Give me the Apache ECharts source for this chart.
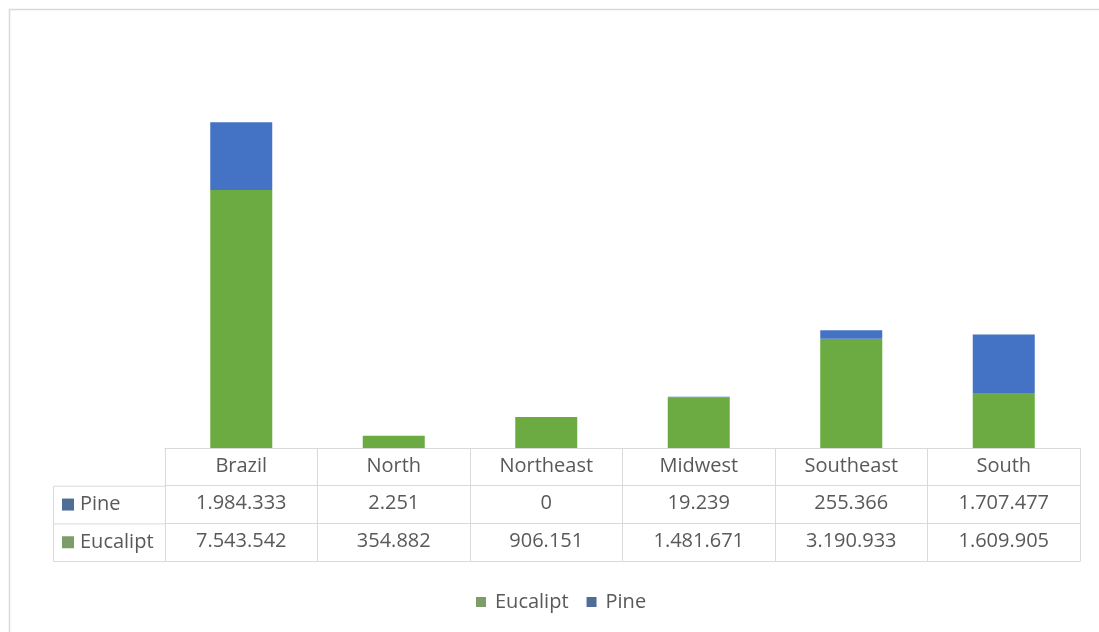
<!DOCTYPE html>
<html>
<head>
<meta charset="utf-8">
<script src="https://cdn.jsdelivr.net/npm/echarts@6/dist/echarts.min.js"></script>
<style>
html,body{margin:0;padding:0;background:#fff;}
#chart{width:1099px;height:632px;}
</style>
</head>
<body>
<div id="chart"></div>
<script>
var categories = ['Brazil', 'North', 'Northeast', 'Midwest', 'Southeast', 'South'];
var seriesNames = ['Eucalipt', 'Pine'];
var eucalipt = [7543542, 354882, 906151, 1481671, 3190933, 1609905];
var pine = [1984333, 2251, 0, 19239, 255366, 1707477];

var TEXT = '#595959';
var LINE = '#d9d9d9';
var FONT = 'Open Sans';
var FS = 20;
var GREEN = '#6cab42';
var BLUE = '#4472c4';
var GREEN_KEY = '#7c9c68';
var BLUE_KEY = '#4f6d96';
var ROW = 37.7;

function fmt(v) {
  return String(v).replace(/\B(?=(\d{3})+(?!\d))/g, '.');
}

var chart = echarts.init(document.getElementById('chart'));

function rowAxis(offset, values) {
  return {
    type: 'category',
    data: categories,
    position: 'bottom',
    offset: offset,
    axisLine: { show: true, lineStyle: { color: LINE, width: 1 } },
    axisTick: { show: false },
    axisLabel: values ? {
      show: true, margin: 8, color: TEXT, fontFamily: FONT, fontSize: FS,
      interval: 0,
      formatter: function (v, i) { return fmt(values[i]); }
    } : { show: false }
  };
}

var option = {
  backgroundColor: '#fff',
  animation: false,
  grid: { left: 165, right: 19, top: 106, bottom: 184, containLabel: false },
  legend: {
    data: [
      { name: seriesNames[0], itemStyle: { color: GREEN_KEY } },
      { name: seriesNames[1], itemStyle: { color: BLUE_KEY } }
    ],
    left: 471, top: 587,
    icon: 'rect', itemWidth: 10, itemHeight: 10, itemGap: 18,
    textStyle: { color: TEXT, fontFamily: FONT, fontSize: FS, padding: [0, 0, 0, 4] }
  },
  xAxis: [
    {
      type: 'category',
      data: categories,
      position: 'bottom',
      axisLine: { show: true, lineStyle: { color: LINE, width: 1 } },
      axisTick: { show: true, length: ROW * 3, lineStyle: { color: LINE, width: 1 } },
      axisLabel: { show: true, margin: 8, color: TEXT, fontFamily: FONT, fontSize: FS, interval: 0 }
    },
    rowAxis(ROW, pine),
    rowAxis(ROW * 2, eucalipt),
    rowAxis(ROW * 3, null)
  ],
  yAxis: {
    type: 'value', min: 0, max: 10000000, show: false,
    splitLine: { show: false }
  },
  series: [
    {
      name: seriesNames[0], type: 'bar', stack: 'total', data: eucalipt,
      barWidth: 62, itemStyle: { color: GREEN }
    },
    {
      name: seriesNames[1], type: 'bar', stack: 'total', data: pine,
      barWidth: 62, itemStyle: { color: BLUE }
    }
  ]
};
chart.setOption(option);

// Row header cells of the data table (left column), aligned to the axes
var axisY = chart.convertToPixel({ yAxisIndex: 0 }, 0);
var leftX = 53;
var gridLeft = 165;
var keyColors = { 'Pine': BLUE_KEY, 'Eucalipt': GREEN_KEY };
var rowNames = ['Pine', 'Eucalipt'];
var g = [
  { type: 'rect', shape: { x: 9.5, y: 9.5, width: 1200, height: 800 },
    style: { fill: 'none', stroke: '#d9d9d9', lineWidth: 1.5 }, silent: true, z: -1 },
  { type: 'rect', shape: { x: leftX + 0.5, y: axisY + ROW + 0.5, width: gridLeft - leftX, height: ROW * 2 },
    style: { fill: 'none', stroke: LINE, lineWidth: 1 }, silent: true },
  { type: 'line', shape: { x1: leftX, y1: axisY + ROW * 2 + 0.5, x2: gridLeft, y2: axisY + ROW * 2 + 0.5 },
    style: { stroke: LINE, lineWidth: 1 }, silent: true }
];
rowNames.forEach(function (name, i) {
  var cy = axisY + ROW * (i + 1) + ROW / 2;
  g.push({ type: 'rect', shape: { x: 62, y: cy - 6, width: 12, height: 12 },
    style: { fill: keyColors[name] }, silent: true });
  g.push({ type: 'text', x: 80, y: cy,
    style: { text: name, fill: TEXT, font: FS + 'px "' + FONT + '"', textVerticalAlign: 'middle', verticalAlign: 'middle' },
    silent: true });
});
chart.setOption({ graphic: g });
</script>
</body>
</html>
